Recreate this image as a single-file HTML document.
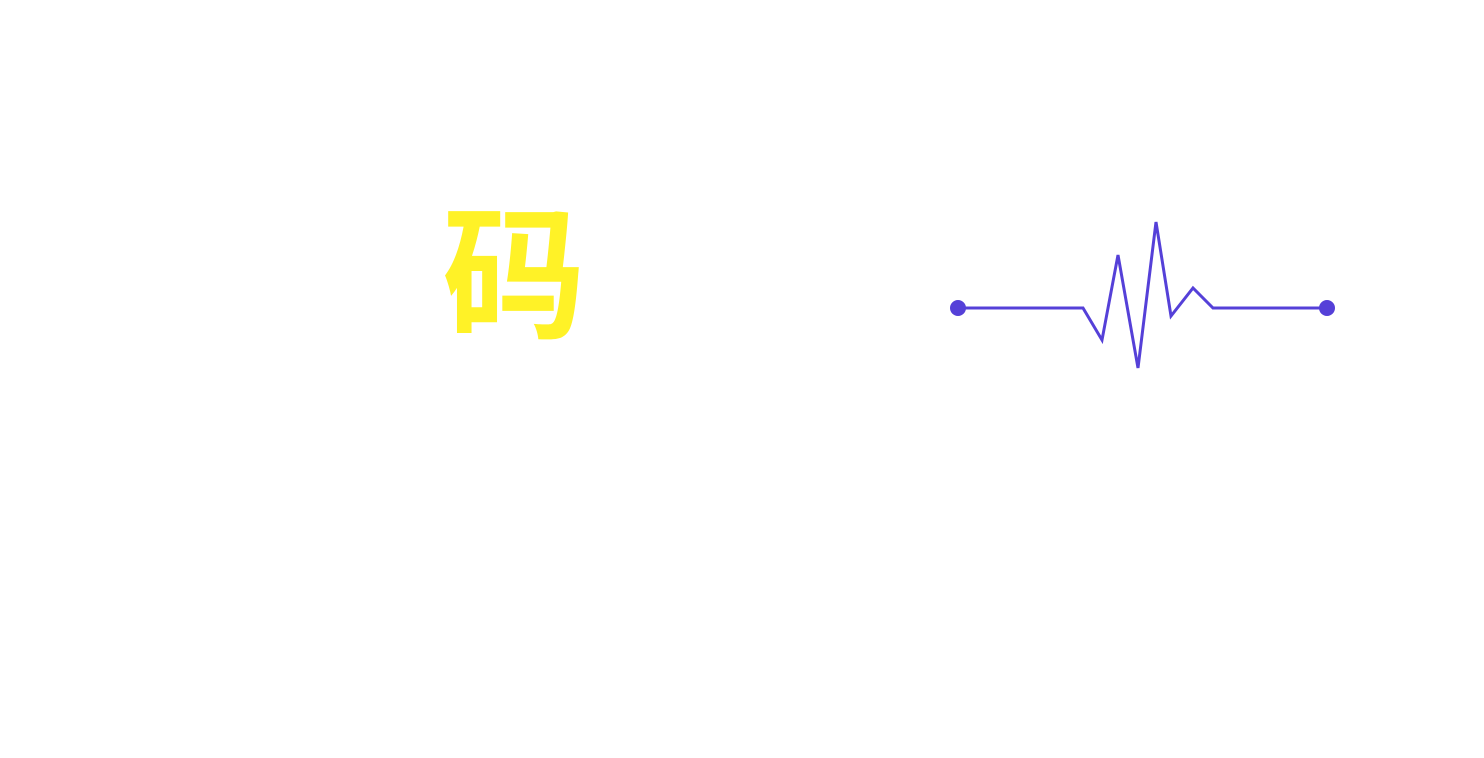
<!DOCTYPE html>
<html><head><meta charset="utf-8"><style>
html,body{margin:0;padding:0;background:#fff;width:1484px;height:758px;overflow:hidden}
.ch{position:absolute;left:442px;top:193px;width:142px;height:170px;line-height:170px;text-align:center;font-family:"Liberation Sans","Noto Sans CJK SC",sans-serif;font-weight:bold;font-size:144px;color:#fff227}
svg{position:absolute;left:0;top:0}
</style></head><body>
<div class="ch">码</div>
<svg width="1484" height="758">
<polyline points="958,308 1083,308 1102,340 1118,255 1138,368 1156,222 1171,316 1193,288 1213,308 1327,308" fill="none" stroke="#5540d8" stroke-width="3"/>
<circle cx="958" cy="308" r="8" fill="#5540d8"/>
<circle cx="1327" cy="308" r="8" fill="#5540d8"/>
</svg>
</body></html>
